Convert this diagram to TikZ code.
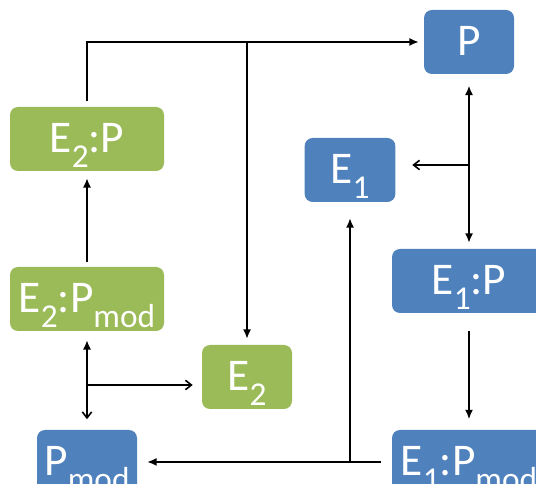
\documentclass[tikz,border=0pt]{standalone}
\usepackage{fontspec}
\setmainfont{Carlito}
\usetikzlibrary{arrows.meta}

\definecolor{boxblue}{HTML}{4F81BD}
\definecolor{boxgreen}{HTML}{9BBB59}
\newcommand{\lowsub}[1]{\raisebox{-11pt}{\fontsize{25pt}{25pt}\selectfont #1}}

\tikzset{
    box/.style={rounded corners=6pt, inner sep=0pt, minimum height=48pt, text=white,
        font=\fontsize{34pt}{34pt}\selectfont, text height=21pt, text depth=0pt},
    bluebox/.style={box, fill=boxblue},
    greenbox/.style={box, fill=boxgreen},
    link/.style={line width=1.2pt},
    solidtip/.tip={Latex[length=7pt, width=6pt]},
    opentip/.tip={Straight Barb[length=4.5pt, width=7pt]}
}

\begin{document}
\begin{tikzpicture}[x=0.75pt, y=-0.75pt]
                \useasboundingbox (0, 0) rectangle (536, 484);
                \clip (0, 0) rectangle (536, 484);

                \node[bluebox, minimum width=67.5pt] (P) at (469, 42) {P};
                \node[greenbox, minimum width=115.5pt] (E2P) at (87, 139) {E\lowsub{2}:P};
                \node[bluebox, minimum width=68pt] (E1) at (350, 170) {E\lowsub{1}};
                \node[greenbox, minimum width=115.5pt] (E2Pmod) at (87, 299) {E\lowsub{2}:P\lowsub{mod}};
                \node[bluebox, minimum width=115.5pt] (E1P) at (469, 281) {E\lowsub{1}:P};
                \node[greenbox, minimum width=67.5pt] (E2) at (247, 377) {E\lowsub{2}};
                \node[bluebox, minimum width=75pt] (Pmod) at (87, 462) {P\lowsub{mod}};
                \node[bluebox, minimum width=115.5pt] (E1Pmod) at (469, 462) {E\lowsub{1}:P\lowsub{mod}};

                \coordinate (splitP) at (469, 165);
                \coordinate (splitE2) at (87, 385);

                \draw[link, -solidtip, shorten <=4pt, shorten >=3.75pt] (E2P.north) |- (P.west);
                \draw[link, -solidtip, shorten >=4.5pt] (E2.north |- P.west) -- (E2.north);
                \draw[link, solidtip-solidtip, shorten <=8.6pt, shorten >=4.5pt] (P.south) -- (E1P.north);
                \draw[link, -opentip, shorten >=12.5pt] (splitP) -- (E1.east |- splitP);
                \draw[link, -solidtip, shorten <=13pt, shorten >=7.9pt] (E1P.south) -- (E1Pmod.north);
                \draw[link, -solidtip, shorten <=8pt, shorten >=7.5pt] (E1Pmod.west) -- (Pmod.east);
                \draw[link, -solidtip, shorten >=12pt] (E1.south |- E1Pmod.west) -- (E1.south);
                \draw[link, -solidtip, shorten <=3.75pt, shorten >=5.25pt] (E2Pmod.north) -- (E2P.south);
                \draw[link, solidtip-opentip, shorten <=6.75pt, shorten >=7.9pt] (E2Pmod.south) -- (Pmod.north);
                \draw[link, -opentip, shorten >=6.75pt] (splitE2) -- (E2.west |- splitE2);
            \end{tikzpicture}
\end{document}
